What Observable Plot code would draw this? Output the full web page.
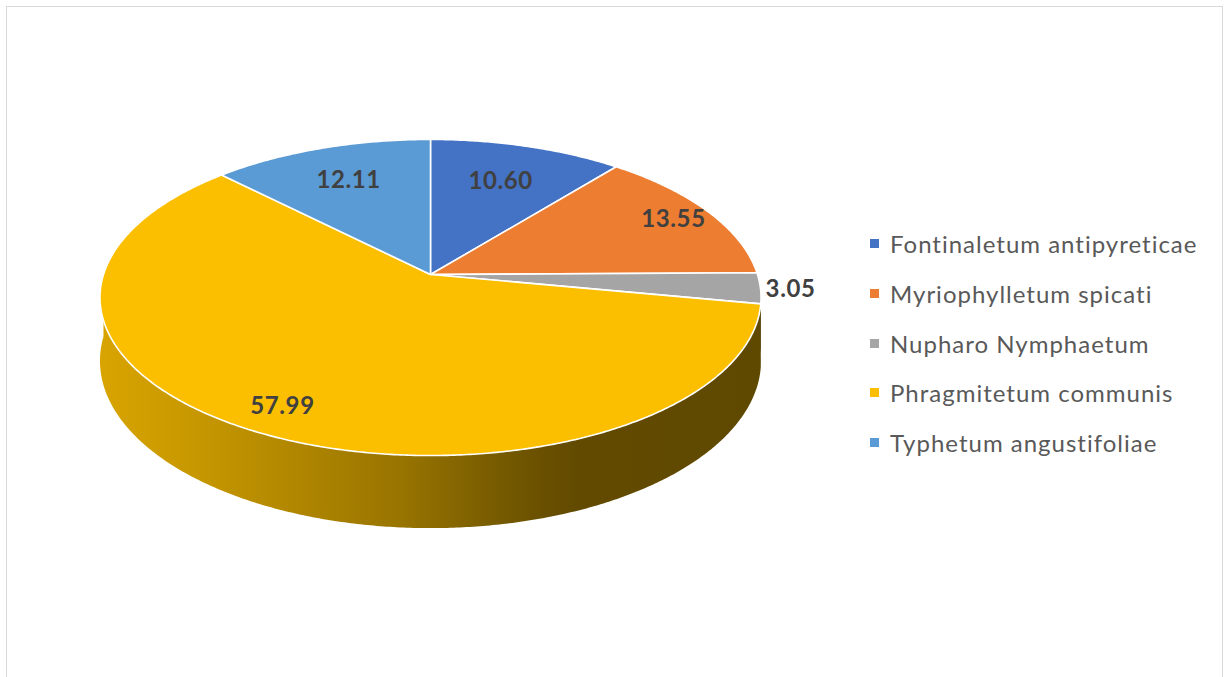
<!DOCTYPE html>
<html>
<head>
<meta charset="utf-8">
<script src="https://cdn.jsdelivr.net/npm/d3@7"></script>
<script src="https://cdn.jsdelivr.net/npm/@observablehq/plot@0.6"></script>
<style>
  html, body { margin: 0; padding: 0; background: #fff; overflow: hidden; }
  #wrap { position: relative; width: 1225px; height: 677px; overflow: hidden; font-family: Lato, "Open Sans", sans-serif; }
  #frame { position: absolute; left: 6px; top: 6px; width: 1217px; height: 700px; border: 1.5px solid #d9d9d9; box-sizing: border-box; pointer-events: none; }
  #legend { position: absolute; left: 870px; top: 219px; }
  .row { display: flex; align-items: center; height: 49.7px; }
  .sw { width: 9px; height: 9px; margin-right: 11px; }
  .lb { font-size: 24px; letter-spacing: 1px; color: #595959; white-space: nowrap; }
  .plab { letter-spacing: 0.6px; }
</style>
</head>
<body>
<div id="wrap"><div id="chart"></div><div id="legend"></div><div id="frame"></div></div>
<script>
// ---- data ----
const categories = ["Fontinaletum antipyreticae", "Myriophylletum spicati", "Nupharo Nymphaetum", "Phragmitetum communis", "Typhetum angustifoliae"];
const values = [10.60, 13.55, 3.05, 57.99, 12.11];
const palette = ["#4472C4", "#ED7D31", "#A5A5A5", "#FBBF00", "#5B9BD5"];

// ---- layout (3D pie projection) ----
const W = 1225, Hpx = 677;
const CX = 430, CY = 274, R = 327, K = 154.7, D = 6.87, DEPTH = 62;
const labelRadius = [0.7, 0.87, 1.09, 0.86, 0.72];
// shading of the side (brightness factor across the width)
const sideStops = [[0, 0.86], [0.15, 0.79], [0.3, 0.7], [0.45, 0.61], [0.57, 0.5], [0.67, 0.42], [0.72, 0.39], [1, 0.38]];

function project(X, Z, drop = 0) {
  const s = D / (D + Z);
  return [CX + R * X * s, CY - K * Z * s + drop * s];
}

const total = d3.sum(values);
let cum = 0;
const slices = values.map((v, i) => {
  const a = cum / total * 2 * Math.PI;
  cum += v;
  const b = cum / total * 2 * Math.PI;
  return {i, name: categories[i], value: v, a, b};
});

function arc(a, b, drop) {
  const n = Math.max(2, Math.ceil((b - a) / (Math.PI / 360)));
  const pts = [];
  for (let k = 0; k <= n; k++) {
    const t = a + (b - a) * k / n;
    pts.push(project(Math.sin(t), Math.cos(t), drop));
  }
  return pts;
}

// top faces
const topPts = [];
for (const s of slices) {
  const pts = [project(0, 0), ...arc(s.a, s.b, 0)];
  for (const [x, y] of pts) topPts.push({name: s.name, x, y});
}

// front side pieces
const sides = [];
for (const s of slices) {
  const a = Math.max(s.a, Math.PI / 2), b = Math.min(s.b, 3 * Math.PI / 2);
  if (b <= a) continue;
  const pts = [...arc(a, b, 0), ...arc(a, b, DEPTH).reverse()];
  sides.push({i: s.i, pts: pts.map(([x, y]) => ({x, y}))});
}

// labels
const labelData = slices.map(s => {
  const m = (s.a + s.b) / 2, r = labelRadius[s.i];
  const [x, y] = project(r * Math.sin(m), r * Math.cos(m));
  return {x, y, text: s.value.toFixed(2)};
});

const chart = Plot.plot({
  width: W, height: Hpx,
  margin: 0,
  x: {domain: [0, W], range: [0, W], axis: null},
  y: {domain: [0, Hpx], range: [0, Hpx], axis: null},
  color: {domain: categories, range: palette},
  style: {background: "transparent", fontFamily: "Lato, 'Open Sans', sans-serif"},
  marks: [
    ...sides.map(s => Plot.line(s.pts, {x: "x", y: "y", curve: "linear-closed", fill: `url(#side-${s.i})`, stroke: "none"})),
    Plot.line(topPts, {x: "x", y: "y", z: "name", fill: "name", stroke: "white", strokeWidth: 1.6, strokeLinejoin: "round", curve: "linear-closed"}),
    Plot.text(labelData, {x: "x", y: "y", text: "text", fontSize: 24, fontWeight: "bold", fill: "#404040", textAnchor: "middle", lineAnchor: "middle", className: "plab"})
  ]
});

// gradients for the side
const defs = d3.select(chart).insert("defs", ":first-child");
slices.forEach(s => {
  const base = d3.rgb(palette[s.i]);
  const g = defs.append("linearGradient").attr("id", `side-${s.i}`)
    .attr("gradientUnits", "userSpaceOnUse")
    .attr("x1", CX - R - 4).attr("x2", CX + R + 4).attr("y1", 0).attr("y2", 0);
  for (const [o, f] of sideStops) {
    g.append("stop").attr("offset", o)
      .attr("stop-color", d3.rgb(base.r * f, base.g * f, base.b * f).formatHex());
  }
});

document.getElementById("chart").appendChild(chart);

// legend
const legend = d3.select("#legend");
categories.forEach((c, i) => {
  const row = legend.append("div").attr("class", "row");
  row.append("div").attr("class", "sw").style("background", palette[i]);
  row.append("div").attr("class", "lb").text(c);
});
</script>
</body>
</html>
